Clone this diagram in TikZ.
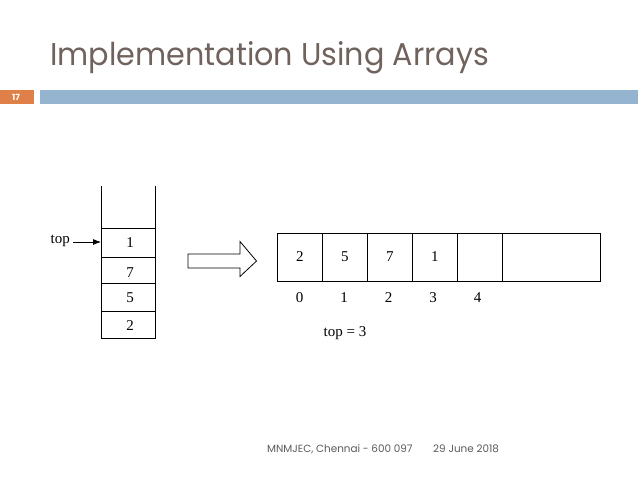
\documentclass[tikz,border=0pt]{standalone}
\usepackage{fontspec}
\usetikzlibrary{arrows.meta}
\setmainfont{Liberation Serif}
\newfontfamily\titlefont{Poppins}
\newfontfamily\footfont{Poppins}
\definecolor{titlegray}{RGB}{112,98,92}
\definecolor{barblue}{RGB}{148,180,208}
\definecolor{barorange}{RGB}{222,128,72}
\definecolor{footgray}{RGB}{90,90,90}
\begin{document}
\begin{tikzpicture}[x=1pt, y=-1pt, line join=miter, >={Latex[length=8pt,width=6pt]}]
\tikzset{cell/.style={draw, line width=0.8pt, minimum width=45pt, minimum height=48pt, inner sep=0pt, anchor=north west, font=\fontsize{15}{15}\selectfont}}
\tikzset{idx/.style={font=\fontsize{15}{15}\selectfont}}
\useasboundingbox (0,0) rectangle (638,479);
% header
\node[anchor=base west, inner sep=0pt, text=titlegray, font=\titlefont\fontsize{31.5}{31.5}\selectfont, xscale=0.96] (title) at (50,65) {Implementation Using Arrays};
\fill[barorange] (0,89.5) rectangle (34,104);
\fill[barblue] (40,89.5) rectangle (638,104);
\node[text=white, font=\titlefont\bfseries\fontsize{8.5}{8.5}\selectfont] (page) at (16,97) {17};
% stack
\draw[line width=0.8pt] (101.5,186) -- (101.5,338.5) -- (155,338.5) -- (155,186);
\draw[line width=0.8pt] (101.5,228.5) -- (155,228.5) (101.5,257.5) -- (155,257.5) (101.5,283.5) -- (155,283.5) (101.5,311.5) -- (155,311.5);
\node[idx] (s1) at (130,243) {1};
\node[idx] (s7) at (130,273) {7};
\node[idx] (s5) at (130,298) {5};
\node[idx] (s2) at (130,326) {2};
\node[idx, anchor=east, inner sep=0pt] (top) at (70,241) {top};
\coordinate (topin) at (101,242);
\draw[->, line width=0.8pt] ([xshift=3pt]top.east |- topin) -- (topin);
% block arrow
\draw[line width=0.8pt] (188,254) -- (240,254) -- (240,241.5) -- (256.5,261) -- (240,276.5) -- (240,268) -- (188,268) -- cycle;
% array
\foreach \i/\v in {0/2,1/5,2/7,3/1,4/{}} {
  \node[cell] (a\i) at (277+45*\i,232.5) {\v};
  \node[idx] (n\i) at (299.5+44.5*\i,298) {\i};
}
\node[cell, minimum width=98pt] (a5) at (502,232.5) {};
\node[idx] (topval) at (345,333) {top = 3};
% footer
\node[anchor=base west, inner sep=0pt, text=footgray, font=\footfont\fontsize{10.4}{10.4}\selectfont] (foot) at (267,452) {MNMJEC, Chennai - 600 097};
\node[anchor=base west, inner sep=0pt, text=footgray, font=\footfont\fontsize{10.4}{10.4}\selectfont] (date) at (433,452) {29 June 2018};
\end{tikzpicture}
\end{document}
